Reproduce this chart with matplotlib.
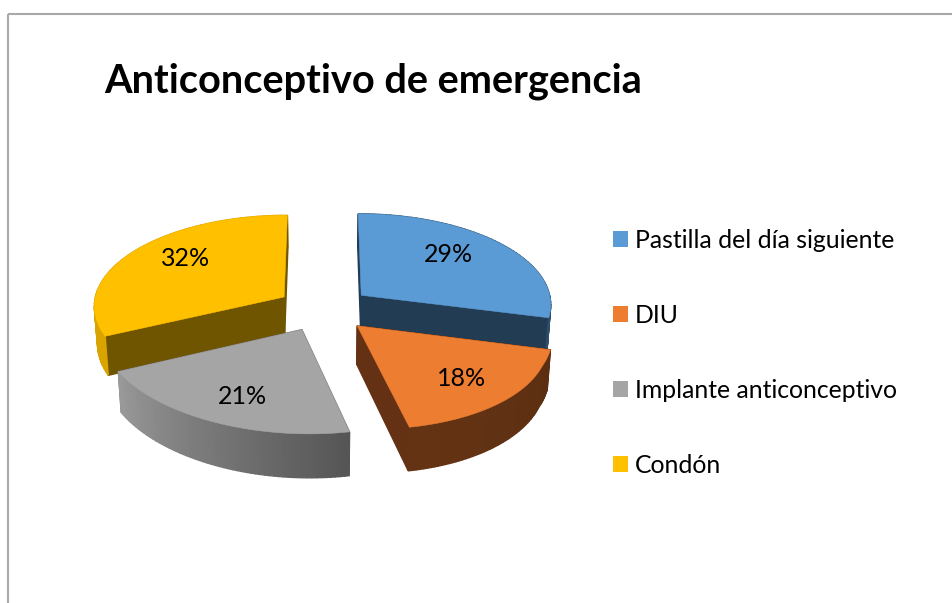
import matplotlib
matplotlib.use('Agg')
import matplotlib.pyplot as plt
from matplotlib.patches import Patch, Rectangle
import numpy as np

plt.rcParams['font.family'] = ['Lato', 'DejaVu Sans']

# datos
categorias = ['Pastilla del día siguiente', 'DIU', 'Implante anticonceptivo', 'Condón']
valores = [29, 18, 21, 32]
titulo = 'Anticonceptivo de emergencia'

# colores de cada porción: cara superior, pared interior, borde exterior (inicio, fin)
colores = ['#5b9bd5', '#ed7d31', '#a5a5a5', '#ffc000']
paredes = ['#223c54', '#653114', '#6e6e6e', '#705500']
borde_ini = ['#2c4d6c', '#5c2f12', '#555555', '#d9a300']
borde_fin = ['#2c4d6c', '#643313', '#9a9a9a', '#d9a300']
pos_etiquetas = [(448, 254), (462, 378), (242, 396), (186, 258)]

# parámetros de la proyección (en pixeles)
cx, cy = 324, 309
a, b, q = 191, 91, 0.089
sesgo = 16
explode = 0.25


def proyecta(X, Z):
    d = 1 + q * Z
    x = cx + a * X / d + sesgo * np.maximum(0, -Z - 0.6)
    y = cy - b * Z / d
    return x, y


def baja(x, y):
    # la base de la pieza: mas abajo y un poco hacia el centro
    return cx + (x - cx) * 0.986, y + 37 + 0.05 * (y - 295)


fig = plt.figure(figsize=(9.52, 6.03), dpi=100)
ax = fig.add_axes([0, 0, 1, 1])
ax.set_xlim(0, 952)
ax.set_ylim(603, 0)
ax.axis('off')

# marco del grafico
ax.add_patch(Rectangle((7.5, 13.5), 1000, 1000, fill=False, ec='#a9a9a9', lw=1.5))

total = sum(valores)
limites = np.cumsum([0] + valores) / total * 2 * np.pi
orden = [3, 0, 2, 1]  # primero las de atras

for n, i in enumerate(orden):
    t0, t1 = limites[i], limites[i + 1]
    tm = (t0 + t1) / 2
    ox, oz = explode * np.sin(tm), explode * np.cos(tm)
    t = np.linspace(t0, t1, 60)
    xs, ys = proyecta(ox + np.sin(t), oz + np.cos(t))
    ax_x, ax_y = proyecta(ox, oz)
    xb, yb = baja(xs, ys)
    axb, ayb = baja(ax_x, ax_y)

    caras = []
    # paredes interiores
    for k in (0, -1):
        zm = oz + np.cos(t[k]) / 2
        caras.append((zm, [ax_x, xs[k], xb[k], axb], [ax_y, ys[k], yb[k], ayb], paredes[i]))
    # borde exterior con degradado
    c0 = np.array(matplotlib.colors.to_rgb(borde_ini[i]))
    c1 = np.array(matplotlib.colors.to_rgb(borde_fin[i]))
    for k in range(len(t) - 1):
        f = k / (len(t) - 2)
        zm = oz + np.cos(t[k])
        caras.append((zm, [xs[k], xs[k + 1], xb[k + 1], xb[k]], [ys[k], ys[k + 1], yb[k + 1], yb[k]],
                      tuple(c0 + (c1 - c0) * f)))
    caras.sort(key=lambda c: -c[0])
    base_z = 10 + n * 1000
    for j, (zm, px, py, col) in enumerate(caras):
        ax.fill(px, py, color=col, lw=1.0, zorder=base_z + j)
    # cara superior
    ax.fill(np.r_[ax_x, xs], np.r_[ax_y, ys], color=colores[i], lw=0.4, zorder=base_z + 500)

for v, (lx, ly) in zip(valores, pos_etiquetas):
    ax.text(lx, ly, f'{v}%', ha='center', va='center', fontsize=18, color='black', zorder=9000)

ax.text(104, 81, titulo, ha='left', va='center', fontsize=28.6, fontweight='bold', color='black')

handles = [Patch(facecolor=c, edgecolor='none') for c in colores]
ax.legend(handles, categorias, loc='center left', bbox_to_anchor=(613 / 952, 1 - 353 / 603),
          frameon=False, fontsize=17.85, handlelength=0.6, handleheight=0.6, handletextpad=0.28,
          labelspacing=2.1, borderpad=0, borderaxespad=0)

fig.savefig('out.png', dpi=100)
